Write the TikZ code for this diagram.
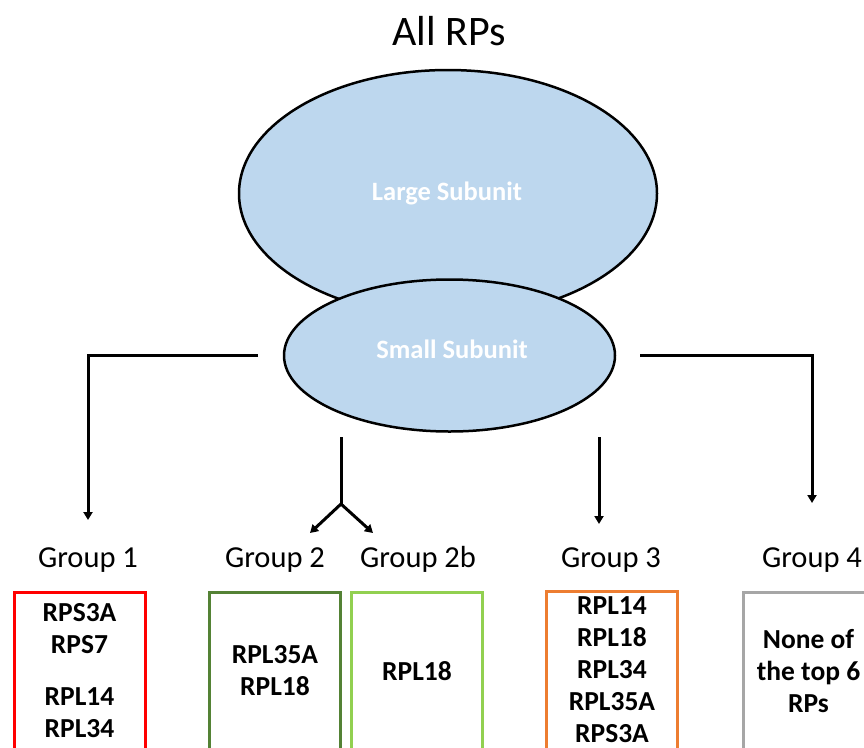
\documentclass[tikz,border=0pt]{standalone}
\usepackage{fontspec}
\setmainfont{Carlito}
\usetikzlibrary{arrows.meta,shapes.geometric}
\definecolor{subfill}{HTML}{BDD7EE}
\definecolor{cred}{HTML}{FF0000}
\definecolor{cdkgreen}{HTML}{548235}
\definecolor{cltgreen}{HTML}{92D050}
\definecolor{corange}{HTML}{ED7D31}
\definecolor{cgray}{HTML}{A6A6A6}
\tikzset{
  subunit/.style={ellipse, draw=black, line width=2.5pt, fill=subfill, inner sep=0pt},
  subtext/.style={anchor=base, text=white, font=\fontsize{26.5}{30}\selectfont\bfseries},
  titletext/.style={anchor=base, font=\fontsize{42}{48}\selectfont},
  grouptext/.style={anchor=base, font=\fontsize{30.5}{36}\selectfont},
  groupbox/.style={draw=#1, line width=3pt, minimum width=131pt, minimum height=158pt, inner sep=0pt,
    align=center, font=\fontsize{27.5}{32}\selectfont\bfseries},
  conn/.style={line width=3pt},
  arr/.style={line width=3pt, -{Triangle[length=8pt,width=9pt]}}
}
\begin{document}
\begin{tikzpicture}[x=1pt,y=-1pt]
\useasboundingbox (0,0) rectangle (864,747);
\clip (0,0) rectangle (864,747);
% title
\node[titletext] (title) at (449,45) {All RPs};
% subunits
\node[subunit, minimum width=418pt, minimum height=247pt] (large) at (448,193.5) {};
\node[subtext] (largetxt) at (447,200) {Large Subunit};
\node[subunit, minimum width=331pt, minimum height=152pt] (small) at (449.5,355.5) {};
\node[subtext] (smalltxt) at (452,358) {Small Subunit};
% connector points
\coordinate (l0) at (258,355);
\coordinate (l1) at (88,355);
\coordinate (l2) at (88,520);
\coordinate (r0) at (640,355);
\coordinate (r1) at (812,355);
\coordinate (r2) at (812,503);
\coordinate (m0) at (341,437);
\coordinate (m1) at (341,504);
\coordinate (m2) at (310,533);
\coordinate (m3) at (373,533);
\coordinate (t0) at (599,437);
\coordinate (t1) at (599,524);
\draw[arr] (l0) -- (l1) -- (l2);
\draw[arr] (r0) -- (r1) -- (r2);
\draw[conn] (m0) -- (m1);
\draw[arr] (m1) -- (m2);
\draw[arr] (m1) -- (m3);
\draw[arr] (t0) -- (t1);
% group labels
\node[grouptext] (g1) at (88,567) {Group 1};
\node[grouptext] (g2) at (275,567) {Group 2};
\node[grouptext] (g2b) at (418,567) {Group 2b};
\node[grouptext] (g3) at (611,567) {Group 3};
\node[grouptext] (g4) at (812,567) {Group 4};
% boxes
\node[groupbox=cred] (b1) at (79.5,671) {RPS3A\\RPS7\\[20pt]RPL14\\RPL34};
\node[groupbox=cdkgreen] (b2) at (275,671) {RPL35A\\RPL18};
\node[groupbox=cltgreen] (b2b) at (417,671) {RPL18};
\node[groupbox=corange] (b3) at (612,670) {RPL14\\RPL18\\RPL34\\RPL35A\\RPS3A};
\node[groupbox=cgray] (b4) at (808.5,671) {None of\\the top 6\\RPs};
\end{tikzpicture}
\end{document}
